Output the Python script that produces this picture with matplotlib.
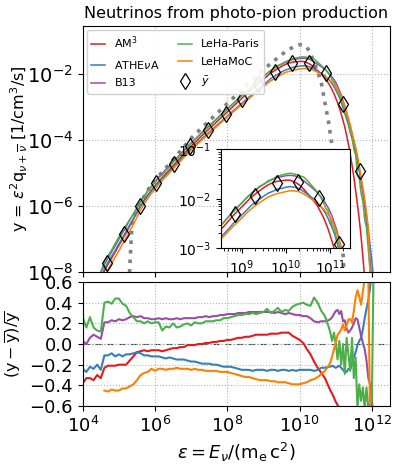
import numpy as np
import matplotlib
matplotlib.use("Agg")
import matplotlib.pyplot as plt
from matplotlib.ticker import LogLocator, NullLocator, FixedLocator

# ---------------- data (log10 values) ----------------
logE_low = [4.0, 4.1, 4.2, 4.3, 4.4, 4.5, 4.6, 4.7, 4.8, 4.9,
            5.0, 5.1, 5.2, 5.3, 5.4, 5.5, 5.6, 5.7, 5.8, 5.9,
            6.0, 6.1, 6.2, 6.3, 6.4, 6.5, 6.6, 6.7, 6.8, 6.9,
            7.0, 7.1, 7.2, 7.3, 7.4, 7.5, 7.6, 7.7, 7.8, 7.9,
            8.0, 8.1, 8.2, 8.3, 8.4, 8.5, 8.6, 8.7, 8.8, 8.9,
            9.0, 9.1, 9.2, 9.3, 9.4, 9.5, 9.6, 9.7, 9.8, 9.9,
            10.0, 10.1, 10.2, 10.3, 10.4, 10.5, 10.6, 10.7, 10.8]
logE_tail = [10.85, 10.9, 10.95, 11.0, 11.05, 11.1, 11.15, 11.2, 11.25, 11.3,
             11.35, 11.4, 11.45, 11.5, 11.55, 11.6, 11.65, 11.7, 11.75, 11.8,
             11.85, 11.9, 11.95, 12.0, 12.05, 12.1]

# mean spectrum log10(ybar)
ybar_low = [-9.0, -8.8, -8.6, -8.41, -8.23, -8.04, -7.86, -7.66, -7.48, -7.29,
            -7.1, -6.91, -6.72, -6.53, -6.35, -6.16, -5.97, -5.8, -5.64, -5.5,
            -5.36, -5.23, -5.11, -4.99, -4.88, -4.76, -4.65, -4.53, -4.41, -4.3,
            -4.18, -4.08, -3.98, -3.87, -3.77, -3.67, -3.57, -3.47, -3.37, -3.27,
            -3.17, -3.07, -2.97, -2.87, -2.77, -2.67, -2.58, -2.48, -2.38, -2.29,
            -2.2, -2.11, -2.02, -1.95, -1.88, -1.82, -1.76, -1.72, -1.68, -1.66,
            -1.64, -1.63, -1.64, -1.67, -1.72, -1.79, -1.87, -1.95, -2.06]
ybar_tail = [-2.12, -2.2, -2.28, -2.38, -2.49, -2.61, -2.75, -2.9, -3.06, -3.24,
             -3.43, -3.64, -3.87, -4.12, -4.38, -4.66, -4.95, -5.27, -5.62, -6.0,
             -6.42, -6.88, -7.38, -7.92, -8.5, -9.1]

# relative residuals (y - ybar)/ybar
am3_low = [-0.38, -0.33, -0.33, -0.35, -0.30, -0.33, -0.23, -0.21, -0.21, -0.21,
           -0.20, -0.20, -0.20, -0.16, -0.12, -0.08, -0.07, -0.06, -0.07, -0.06,
           -0.06, -0.06, -0.07, -0.06, -0.05, -0.04, -0.04, -0.03, -0.03, -0.01,
           -0.01, -0.01, 0.0, 0.0, 0.01, 0.01, 0.02, 0.02, 0.03, 0.03,
           0.04, 0.04, 0.05, 0.06, 0.06, 0.07, 0.07, 0.08, 0.09, 0.09,
           0.09, 0.09, 0.10, 0.10, 0.10, 0.11, 0.11, 0.11, 0.08, 0.06,
           0.04, 0.01, -0.05, -0.10, -0.17, -0.23, -0.28, -0.33, -0.41]
am3_tail = [-0.45, -0.48, -0.52, -0.56, -0.59, -0.62, -0.65, -0.69, -0.72, -0.76,
            -0.80, -0.84, -0.87, -0.90, -0.93, -0.95, -0.965, -0.978, -0.988, -0.994,
            -0.997, -0.999, -0.9995, -0.9998, -0.9999, -0.99995]

athena_low = [-0.24, -0.27, -0.22, -0.24, -0.20, -0.25, -0.11, -0.11, -0.09, -0.12,
              -0.10, -0.12, -0.10, -0.10, -0.09, -0.08, -0.09, -0.11, -0.11, -0.12,
              -0.12, -0.12, -0.13, -0.14, -0.13, -0.14, -0.15, -0.15, -0.15, -0.16,
              -0.17, -0.17, -0.18, -0.19, -0.19, -0.19, -0.20, -0.20, -0.21, -0.22,
              -0.22, -0.22, -0.23, -0.24, -0.25, -0.25, -0.25, -0.26, -0.25, -0.25,
              -0.25, -0.26, -0.25, -0.25, -0.26, -0.25, -0.25, -0.26, -0.25, -0.26,
              -0.25, -0.25, -0.25, -0.25, -0.26, -0.25, -0.23, -0.23, -0.22]
athena_tail = [-0.22, -0.21, -0.22, -0.23, -0.22, -0.21, -0.23, -0.25, -0.27, -0.27,
               -0.24, -0.25, -0.18, -0.13, -0.08, -0.01, 0.03, 0.06, 0.14, 0.25,
               0.34, 0.42, 0.55, 0.70, 0.90, 1.10]

b13_low = [0.03, 0.00, 0.06, 0.09, 0.07, 0.05, 0.21, 0.21, 0.23, 0.22,
           0.24, 0.23, 0.24, 0.26, 0.27, 0.26, 0.27, 0.25, 0.25, 0.24,
           0.24, 0.25, 0.24, 0.25, 0.24, 0.24, 0.25, 0.24, 0.25, 0.25,
           0.25, 0.25, 0.26, 0.26, 0.27, 0.26, 0.27, 0.27, 0.28, 0.28,
           0.29, 0.29, 0.29, 0.30, 0.30, 0.30, 0.31, 0.31, 0.31, 0.31,
           0.31, 0.31, 0.31, 0.30, 0.31, 0.30, 0.29, 0.30, 0.29, 0.28,
           0.28, 0.27, 0.27, 0.25, 0.22, 0.21, 0.22, 0.22, 0.23]
b13_tail = [0.24, 0.26, 0.29, 0.32, 0.33, 0.29, 0.32, 0.22, 0.23, 0.15,
            0.11, 0.13, 0.16, 0.20, 0.25, 0.24, 0.16, 0.08, 0.01, -0.05,
            -0.16, -0.33, -0.39, -0.55, -0.70, -0.85]

lehaparis_low = [0.26, 0.16, 0.26, 0.16, 0.13, 0.12, 0.40, 0.41, 0.39, 0.44,
                 0.44, 0.39, 0.37, 0.30, 0.26, 0.22, 0.22, 0.20, 0.22, 0.20,
                 0.21, 0.21, 0.13, 0.17, 0.16, 0.20, 0.16, 0.17, 0.19, 0.20,
                 0.18, 0.21, 0.20, 0.20, 0.22, 0.22, 0.22, 0.23, 0.23, 0.25,
                 0.25, 0.26, 0.27, 0.28, 0.28, 0.29, 0.29, 0.30, 0.29, 0.30,
                 0.31, 0.34, 0.30, 0.32, 0.35, 0.31, 0.33, 0.32, 0.36, 0.38,
                 0.39, 0.40, 0.38, 0.37, 0.45, 0.40, 0.32, 0.27, 0.17]
lehaparis_tail = [0.11, 0.03, 0.11, 0.0, -0.15, 0.03, -0.20, 0.0, -0.29, 0.06,
                  -0.10, -0.26, 0.06, -0.33, -0.13, -0.62, -0.39, -0.55, -0.42, -0.62,
                  -0.42, -0.62, -0.75, -0.50, 0.80, 1.50]

nan = float("nan")
lehamoc_low = [nan, nan, nan, nan, nan, nan, -0.45, -0.46, -0.44, -0.45,
               -0.45, -0.43, -0.43, -0.41, -0.39, -0.35, -0.30, -0.28, -0.27, -0.24,
               -0.26, -0.24, -0.24, -0.25, -0.24, -0.24, -0.23, -0.24, -0.24, -0.24,
               -0.25, -0.24, -0.25, -0.25, -0.26, -0.26, -0.26, -0.26, -0.27, -0.27,
               -0.27, -0.28, -0.29, -0.30, -0.31, -0.32, -0.32, -0.33, -0.34, -0.35,
               -0.35, -0.35, -0.36, -0.36, -0.37, -0.37, -0.37, -0.38, -0.39, -0.39,
               -0.39, -0.38, -0.37, -0.35, -0.34, -0.32, -0.29, -0.26, -0.21]
lehamoc_tail = [-0.18, -0.12, -0.05, 0.01, 0.09, 0.11, 0.14, 0.19, 0.13, 0.18,
                0.24, 0.24, 0.21, 0.32, 0.45, 0.52, 0.46, 0.38, 0.51, 0.63,
                0.60, 0.70, -0.80, -0.95, -0.98, -0.99]

# ybar markers (diamonds)
diam_logE = [4.66, 5.13, 5.58, 6.04, 6.52, 6.98, 7.47, 7.95, 8.42, 8.85,
             9.31, 9.79, 10.27, 10.74, 11.2, 11.66]
diam_logy = [-7.74, -6.85, -6.0, -5.31, -4.74, -4.2, -3.7, -3.22, -2.76, -2.3,
             -1.95, -1.68, -1.66, -1.98, -2.92, -4.93]

# grey dotted reference spectrum
grey_logE = [5.28, 5.3, 5.33, 5.36, 5.4, 5.5, 5.6, 5.8, 6.0, 6.5, 7.0, 7.5, 8.0,
             8.5, 9.0, 9.3, 9.5, 9.7, 9.9, 10.0, 10.1, 10.2, 10.3, 10.4, 10.5,
             10.6, 10.7, 10.8, 10.9, 11.0, 11.1, 11.2, 11.25]
grey_logy = [-8.6, -7.9, -7.25, -6.65, -6.35, -6.1, -5.9, -5.52, -5.22, -4.6, -3.95,
             -3.42, -2.9, -2.38, -1.87, -1.6, -1.42, -1.26, -1.15, -1.12, -1.12,
             -1.19, -1.38, -1.65, -1.93, -2.27, -2.87, -3.45, -4.2, -4.95, -5.8,
             -7.4, -8.6]

labels = ["AM$^3$", "ATHE$\\nu$A", "B13", "LeHa-Paris", "LeHaMoC"]
colors = ["#e41a1c", "#377eb8", "#984ea3", "#4daf4a", "#ff7f00"]
resid_sets = [am3_low + am3_tail, athena_low + athena_tail, b13_low + b13_tail,
              lehaparis_low + lehaparis_tail, lehamoc_low + lehamoc_tail]

# ---------------- derived ----------------
E = 10.0 ** np.array(logE_low + logE_tail)
ybar = 10.0 ** np.array(ybar_low + ybar_tail)
Ed = 10.0 ** np.array(diam_logE)
yd = 10.0 ** np.array(diam_logy)
Eg = 10.0 ** np.array(grey_logE)
yg = 10.0 ** np.array(grey_logy)

# ---------------- figure ----------------
fig = plt.figure(figsize=(3.99, 4.67), dpi=100)
ax1 = fig.add_axes([0.2073, 0.4176, 0.7701, 0.5268])
ax2 = fig.add_axes([0.2073, 0.1306, 0.7701, 0.2655], sharex=ax1)
axin = fig.add_axes([0.5539, 0.4683, 0.3233, 0.2120])

dkw = dict(ls="none", marker="d", ms=8, mfc="none", mec="black", mew=0.9, zorder=3)

ax1.plot(Eg, yg, ls=":", color="grey", lw=2.6, zorder=1.5)
for lab, col, r in zip(labels, colors, resid_sets):
    r = np.array(r)
    ym = ybar * (1.0 + r)
    ax1.plot(E, ym, color=col, lw=1.1, label=lab, zorder=2)
    axin.plot(E, ym, color=col, lw=1.1, zorder=2)
    ax2.plot(E, r, color=col, lw=1.5, zorder=2)
ax1.plot(Ed, yd, label="$\\bar{y}$", **dkw)
axin.plot(Ed, yd, **dkw)

ax1.set_xscale("log")
ax1.set_yscale("log")
ax1.set_xlim(1e4, 10 ** 12.5)
ax1.set_ylim(1e-8, 10 ** -0.55)
ax1.yaxis.set_major_locator(FixedLocator([1e-8, 1e-6, 1e-4, 1e-2]))
ax1.yaxis.set_minor_locator(NullLocator())
ax1.xaxis.set_major_locator(FixedLocator([1e4, 1e6, 1e8, 1e10, 1e12]))
ax1.xaxis.set_minor_locator(NullLocator())
ax1.tick_params(labelbottom=False, labelsize=14)
ax1.grid(True, ls=":", color="0.7", lw=0.8)
ax1.set_title("Neutrinos from photo-pion production", fontsize=11.5)
ax1.set_ylabel("y = $\\varepsilon^2\\mathrm{q}_{\\nu+\\overline{\\nu}}$ [1/cm$^3$/s]",
               fontsize=11.5)
ax1.yaxis.set_label_coords(-0.172, 0.5)

ax1.legend(loc="upper left", ncol=2, fontsize=8, handlelength=1.3,
           columnspacing=1.6, labelspacing=0.7, borderaxespad=0.35,
           framealpha=0.9)

axin.set_xscale("log")
axin.set_yscale("log")
axin.set_xlim(10 ** 8.53, 10 ** 11.45)
axin.set_ylim(1e-3, 1e-1)
axin.xaxis.set_major_locator(FixedLocator([1e9, 1e10, 1e11]))
axin.xaxis.set_minor_locator(LogLocator(base=10, subs=np.arange(2, 10)))
axin.tick_params(labelsize=10)

ax2.axhline(0.0, color="darkslategray", ls="-.", lw=0.8, zorder=1)
ax2.set_ylim(-0.6, 0.6)
ax2.set_yticks([-0.6, -0.4, -0.2, 0.0, 0.2, 0.4, 0.6])
ax2.tick_params(axis="y", labelsize=13)
ax2.tick_params(axis="x", labelsize=13)
ax2.grid(True, ls=":", color="0.7", lw=0.8)
ax2.set_ylabel("$(\\mathrm{y}-\\overline{\\mathrm{y}})/\\overline{\\mathrm{y}}$",
               fontsize=11.5)
ax2.yaxis.set_label_coords(-0.19, 0.5)
ax2.set_xlabel("$\\varepsilon = E_\\nu/(\\mathrm{m_e\\,c^2})$", fontsize=13)

fig.savefig("out.png", dpi=100)
